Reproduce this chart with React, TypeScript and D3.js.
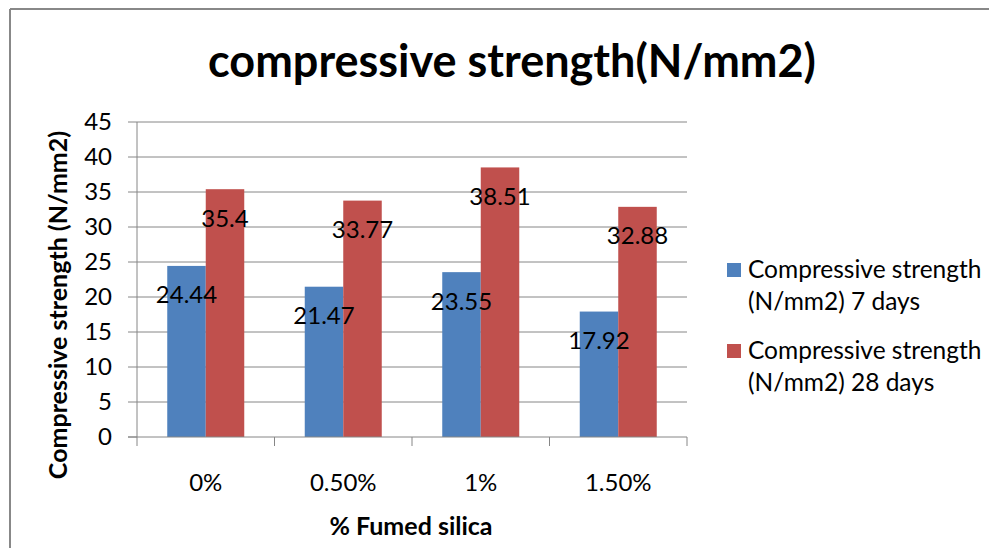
import React from "react";
import * as d3 from "d3";

const categories = ["0%", "0.50%", "1%", "1.50%"];
const series7 = [24.44, 21.47, 23.55, 17.92];
const series28 = [35.4, 33.77, 38.51, 32.88];
const yTicks = [0, 5, 10, 15, 20, 25, 30, 35, 40, 45];
const seriesNames = [
  ["Compressive strength", "(N/mm2) 7 days"],
  ["Compressive strength", "(N/mm2) 28 days"],
];
const colors = ["#4F81BD", "#C0504D"];

const W = 997;
const H = 556;
const FONT = "Lato, 'Open Sans', sans-serif";

export default function App() {
  const plotLeft = 137;
  const plotRight = 687;
  const plotTop = 122;
  const plotBottom = 437;

  const x = d3.scaleBand<string>().domain(categories).range([plotLeft, plotRight]).paddingInner(0).paddingOuter(0);
  const y = d3.scaleLinear().domain([0, 45]).range([plotBottom, plotTop]);
  const barW = 38.5;
  const seriesData = [series7, series28];

  return (
    <div style={{ margin: -8 }}>
      <svg width={W} height={H} style={{ display: "block", background: "#fff" }} fontFamily={FONT}>
        <rect x={0} y={0} width={W} height={H} fill="#fff" />
        {/* frame */}
        <line x1={10} y1={9} x2={W} y2={9} stroke="#888" strokeWidth={2} />
        <line x1={10} y1={9} x2={10} y2={H} stroke="#888" strokeWidth={2} />

        {/* title */}
        <text x={512} y={77} textAnchor="middle" fontSize={45} fontWeight="bold" fill="#000">
          compressive strength(N/mm2)
        </text>

        {/* gridlines */}
        {yTicks.map((t) => (
          <g key={t}>
            {t > 0 && (
              <line x1={plotLeft} x2={plotRight} y1={y(t)} y2={y(t)} stroke="#868686" strokeWidth={1} />
            )}
            <line x1={plotLeft - 9} x2={plotLeft} y1={y(t)} y2={y(t)} stroke="#868686" strokeWidth={1} />
            <text x={plotLeft - 25} y={y(t)} dy="0.35em" textAnchor="end" fontSize={24} fill="#000">
              {t}
            </text>
          </g>
        ))}

        {/* bars */}
        {categories.map((c, i) => {
          const cx = (x(c) as number) + x.bandwidth() / 2;
          return (
            <g key={c}>
              {seriesData.map((s, j) => {
                const bx = cx - barW + j * barW;
                return (
                  <rect key={j} x={bx} y={y(s[i])} width={barW} height={plotBottom - y(s[i])} fill={colors[j]} />
                );
              })}
            </g>
          );
        })}

        {/* axes */}
        <line x1={plotLeft} x2={plotLeft} y1={plotTop} y2={plotBottom} stroke="#868686" strokeWidth={1} />
        <line x1={plotLeft - 9} x2={plotRight} y1={plotBottom} y2={plotBottom} stroke="#868686" strokeWidth={1} />
        {d3.range(categories.length + 1).map((k) => {
          const tx = plotLeft + k * x.bandwidth();
          return <line key={k} x1={tx} x2={tx} y1={plotBottom} y2={plotBottom + 9} stroke="#868686" strokeWidth={1} />;
        })}

        {/* data labels */}
        {categories.map((c, i) => {
          const cx = (x(c) as number) + x.bandwidth() / 2;
          return seriesData.map((s, j) => {
            const bx = cx - barW + j * barW + barW / 2;
            return (
              <text key={c + j} x={bx} y={y(s[i]) + 29} dy="0.35em" textAnchor="middle" fontSize={24} fill="#000">
                {s[i]}
              </text>
            );
          });
        })}

        {/* category labels */}
        {categories.map((c) => (
          <text key={c} x={(x(c) as number) + x.bandwidth() / 2} y={491} textAnchor="middle" fontSize={24} fill="#000">
            {c}
          </text>
        ))}

        {/* axis titles */}
        <text x={411} y={535} textAnchor="middle" fontSize={25} fontWeight="bold" fill="#000">
          % Fumed silica
        </text>
        <text
          transform={`translate(67,305) rotate(-90)`}
          textAnchor="middle"
          fontSize={25}
          fontWeight="bold"
          fill="#000"
        >
          Compressive strength (N/mm2)
        </text>

        {/* legend */}
        {seriesNames.map((lines, j) => {
          const top = 263 + j * 81;
          return (
            <g key={j}>
              <rect x={727} y={top} width={14} height={14} fill={colors[j]} />
              {lines.map((ln, k) => (
                <text key={k} x={748} y={top + 15 + k * 32} fontSize={24.5} fill="#000">
                  {ln}
                </text>
              ))}
            </g>
          );
        })}
      </svg>
    </div>
  );
}
